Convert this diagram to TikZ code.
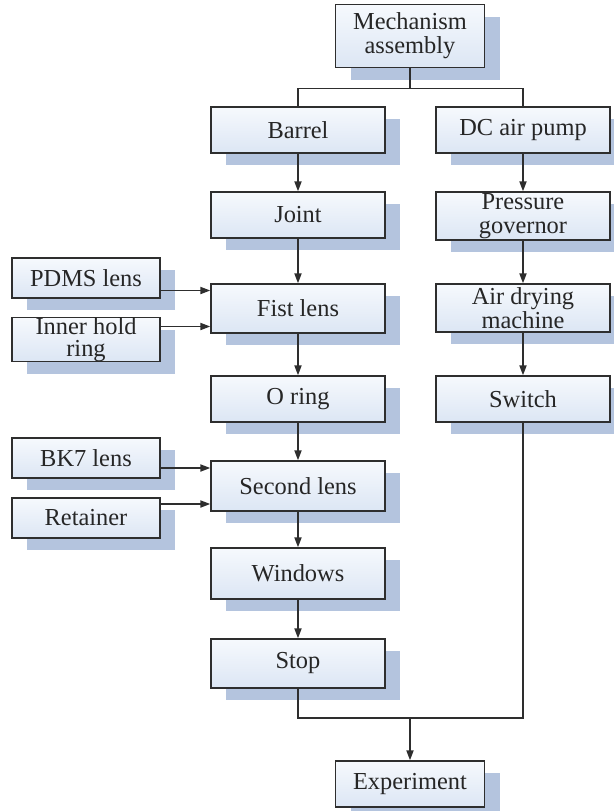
\documentclass[tikz,border=0pt]{standalone}
\usepackage{fontspec}
\setmainfont{Liberation Serif}
\usepackage{tikz}
\usetikzlibrary{arrows.meta, positioning, shadows}

\definecolor{boxtop}{HTML}{F6F9FD}
\definecolor{boxbot}{HTML}{DCE6F4}
\definecolor{shadowblue}{HTML}{B4C4DE}
\definecolor{linegray}{HTML}{2E2E2E}

\begin{document}
\begin{tikzpicture}[x=0.5pt, y=-0.5pt, >={Triangle[length=5pt,width=3.6pt]}, node distance=20pt]
    \tikzset{stepbox/.style={rectangle, draw=linegray, line width=0.75pt, top color=boxtop, bottom color=boxbot,
                 drop shadow={shadow xshift=7.5pt, shadow yshift=-6pt, fill=shadowblue, opacity=1},
                 minimum width=87pt, minimum height=23pt, inner sep=0.5pt, align=center, text=black!85,
                 font=\fontsize{12.2}{12}\selectfont},
             sidebox/.style={stepbox, minimum width=74pt, minimum height=20pt, inner sep=0pt,
                 font=\fontsize{12.2}{11}\selectfont},
             topbox/.style={stepbox, minimum width=74.5pt},
             conn/.style={draw=linegray, line width=0.75pt}}
    \useasboundingbox (0,0) rectangle (614,811);
    \node[topbox, minimum height=31.5pt] (mech) at (410,36) {Mechanism\\assembly};
    \node[stepbox] (barrel) at (298,130) {Barrel};
    \node[stepbox] (pump) at (523,130) {DC air pump};
    \node[stepbox, below=18.75pt of barrel] (joint) {Joint};
    \node[stepbox, below=22.25pt of joint, minimum height=24.5pt] (fist) {Fist lens};
    \node[stepbox, below=20.75pt of fist] (oring) {O ring};
    \node[stepbox, below=18.75pt of oring, minimum height=25pt] (second) {Second lens};
    \node[stepbox, below=17.75pt of second, minimum height=25.5pt] (windows) {Windows};
    \node[stepbox, below=19.25pt of windows, minimum height=24.5pt] (stop) {Stop};
    \node[stepbox, minimum height=24pt, below=18.75pt of pump] (governor) {Pressure\\governor};
    \node[stepbox, minimum height=24pt, below=21.25pt of governor] (airdry) {Air drying\\machine};
    \node[stepbox, below=21.25pt of airdry] (switch) {Switch};
    \node[sidebox] (pdms) at (86,278) {PDMS lens};
    \node[sidebox, below=9pt of pdms] (inner) {Inner hold\\ring};
    \node[sidebox] (bk7) at (86,458) {BK7 lens};
    \node[sidebox, below=9.25pt of bk7] (retainer) {Retainer};
    \node[topbox] (exp) at (410,784) {Experiment};
    % split and merge points
    \coordinate (split) at ([yshift=-10pt]mech.south);
    \coordinate (merge) at ([yshift=-14.5pt]stop.south -| exp.north);
    \draw[conn] (mech.south) -- (split);
    \draw[conn] (barrel.north) |- (split) -| (pump.north);
    \draw[conn, ->] (barrel) -- (joint);
    \draw[conn, ->] (joint) -- (fist);
    \draw[conn, ->] (fist) -- (oring);
    \draw[conn, ->] (oring) -- (second);
    \draw[conn, ->] (second) -- (windows);
    \draw[conn, ->] (windows) -- (stop);
    \draw[conn, ->] (pump) -- (governor);
    \draw[conn, ->] (governor) -- (airdry);
    \draw[conn, ->] (airdry) -- (switch);
    \draw[conn, ->] ([yshift=9pt]fist.west -| pdms.east) -- ([yshift=9pt]fist.west);
    \draw[conn, ->] ([yshift=-9pt]fist.west -| inner.east) -- ([yshift=-9pt]fist.west);
    \draw[conn, ->] ([yshift=9pt]second.west -| bk7.east) -- ([yshift=9pt]second.west);
    \draw[conn, ->] ([yshift=-9pt]second.west -| retainer.east) -- ([yshift=-9pt]second.west);
    \draw[conn] (stop.south) |- (merge) -| (switch.south);
    \draw[conn, ->] (merge) -- (exp.north);
\end{tikzpicture}
\end{document}
